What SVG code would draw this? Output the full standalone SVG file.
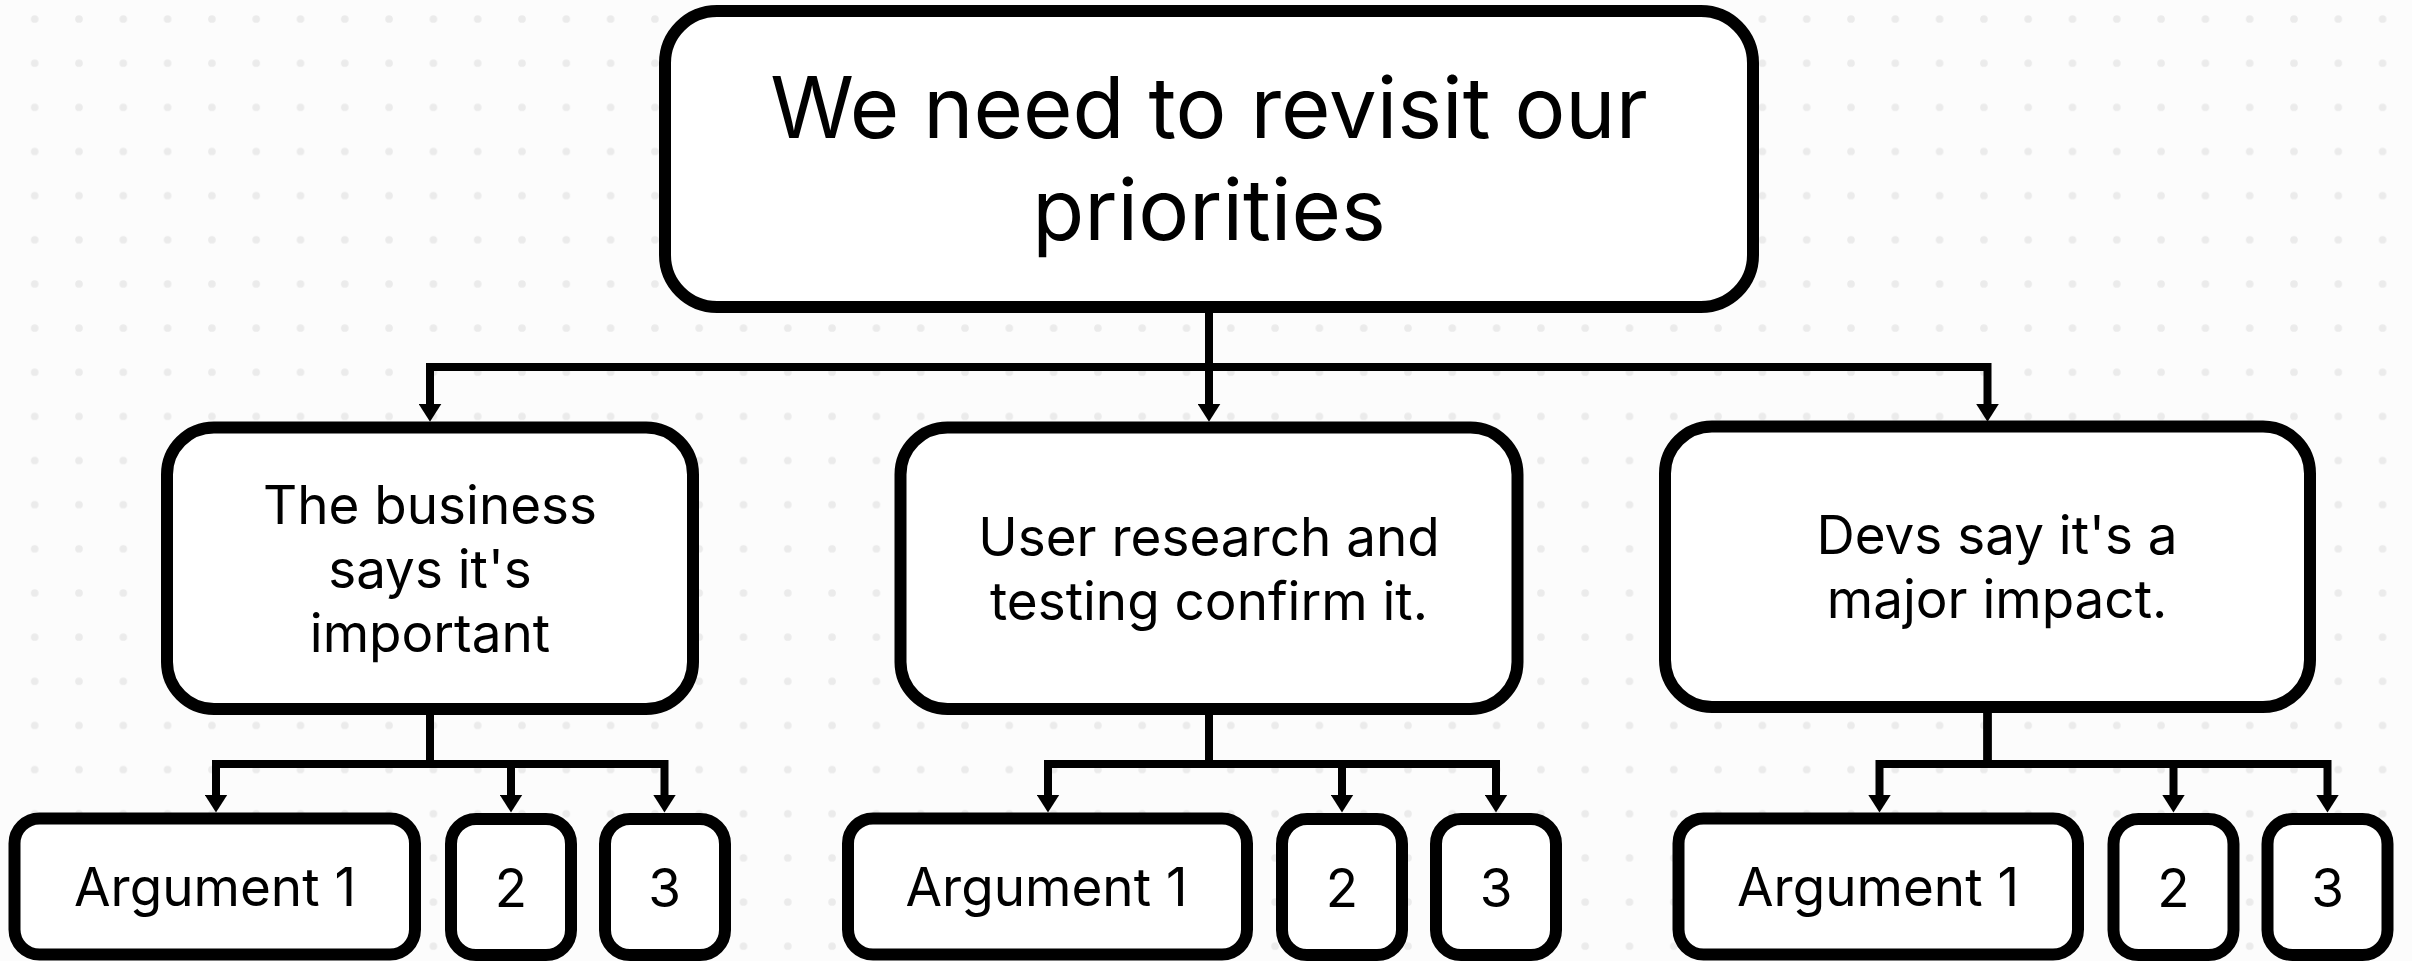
<svg xmlns="http://www.w3.org/2000/svg" width="2412" height="961" viewBox="0 0 2412 961">
<style>
.box{fill:#ffffff;stroke:#000000;stroke-width:12}
.t{font-family:Inter,"Liberation Sans",sans-serif;fill:#000000;text-anchor:middle}
.big{font-size:85px}
.mid{font-size:53px}
.sm{font-size:53px}
.con{fill:none;stroke:#000000;stroke-width:8;stroke-linejoin:miter;marker-end:url(#arr)}
</style>
<defs>
<pattern id="dots" x="34.7" y="19" width="44.3" height="44.15" patternUnits="userSpaceOnUse">
<circle cx="0" cy="0" r="3.8" fill="#ebebeb"/>
<circle cx="44.3" cy="0" r="3.8" fill="#ebebeb"/>
<circle cx="0" cy="44.15" r="3.8" fill="#ebebeb"/>
<circle cx="44.3" cy="44.15" r="3.8" fill="#ebebeb"/>
</pattern>
<marker id="arr" viewBox="0 0 18 23" refX="2" refY="11.5" markerWidth="18" markerHeight="23" markerUnits="userSpaceOnUse" orient="auto">
<path d="M0,0 L18,11.5 L0,23 Z" fill="#000000"/>
</marker>
</defs>
<rect x="0" y="0" width="2412" height="961" fill="#fcfcfc"/>
<rect x="0" y="0" width="2412" height="961" fill="url(#dots)"/>

<g id="connectors">
<path class="con" d="M1209 313 V367 H430 V405.7"/>
<path class="con" d="M1209 313 V405.7"/>
<path class="con" d="M1209 313 V367 H1987.5 V405.7"/>
<path class="con" d="M430 714 V764 H216 V796.5"/>
<path class="con" d="M430 714 V764 H511 V796.5"/>
<path class="con" d="M430 714 V764 H664.5 V796.5"/>
<path class="con" d="M1209 714 V764 H1048 V796.5"/>
<path class="con" d="M1209 714 V764 H1342 V796.5"/>
<path class="con" d="M1209 714 V764 H1496 V796.5"/>
<path class="con" d="M1987.5 713 V764 H1879.5 V796.5"/>
<path class="con" d="M1987.5 713 V764 H2173.5 V796.5"/>
<path class="con" d="M1987.5 713 V764 H2327.5 V796.5"/>
</g>

<g id="root">
<rect class="box" x="665" y="11" width="1088" height="296" rx="52"/>
<text class="t big" x="1209" y="138">We need to revisit our</text>
<text class="t big" x="1209" y="240">priorities</text>
</g>

<g id="business">
<rect class="box" x="167" y="427.5" width="526" height="281.5" rx="47"/>
<text class="t mid" x="430" y="524">The business</text>
<text class="t mid" x="430" y="587.5">says it's</text>
<text class="t mid" x="430" y="651.5">important</text>
</g>
<g id="research">
<rect class="box" x="900.5" y="427.5" width="617" height="281.5" rx="47"/>
<text class="t mid" x="1209" y="556">User research and</text>
<text class="t mid" x="1209" y="619.5">testing confirm it.</text>
</g>
<g id="devs">
<rect class="box" x="1665" y="426.5" width="645" height="280.5" rx="47"/>
<text class="t mid" x="1997" y="553.5">Devs say it's a</text>
<text class="t mid" x="1997" y="617.5">major impact.</text>
</g>

<g id="b-arg1">
<rect class="box" x="14.5" y="818.5" width="400.5" height="136" rx="25"/>
<text class="t sm" x="215" y="906">Argument 1</text>
</g>
<g id="b-arg2">
<rect class="box" x="451" y="819" width="120" height="136" rx="25"/>
<text class="t sm" x="511" y="906.5">2</text>
</g>
<g id="b-arg3">
<rect class="box" x="605" y="819" width="120" height="136" rx="25"/>
<text class="t sm" x="664.5" y="906.5">3</text>
</g>

<g id="r-arg1">
<rect class="box" x="848" y="818.5" width="399" height="136" rx="25"/>
<text class="t sm" x="1046.5" y="906">Argument 1</text>
</g>
<g id="r-arg2">
<rect class="box" x="1282" y="819" width="120" height="136" rx="25"/>
<text class="t sm" x="1342" y="906.5">2</text>
</g>
<g id="r-arg3">
<rect class="box" x="1436" y="819" width="120" height="136" rx="25"/>
<text class="t sm" x="1496" y="906.5">3</text>
</g>

<g id="d-arg1">
<rect class="box" x="1678.5" y="818.5" width="399.5" height="136" rx="25"/>
<text class="t sm" x="1878" y="906">Argument 1</text>
</g>
<g id="d-arg2">
<rect class="box" x="2113.5" y="819" width="120" height="136" rx="25"/>
<text class="t sm" x="2173.5" y="906.5">2</text>
</g>
<g id="d-arg3">
<rect class="box" x="2267.5" y="819" width="120" height="136" rx="25"/>
<text class="t sm" x="2327.5" y="906.5">3</text>
</g>
</svg>
